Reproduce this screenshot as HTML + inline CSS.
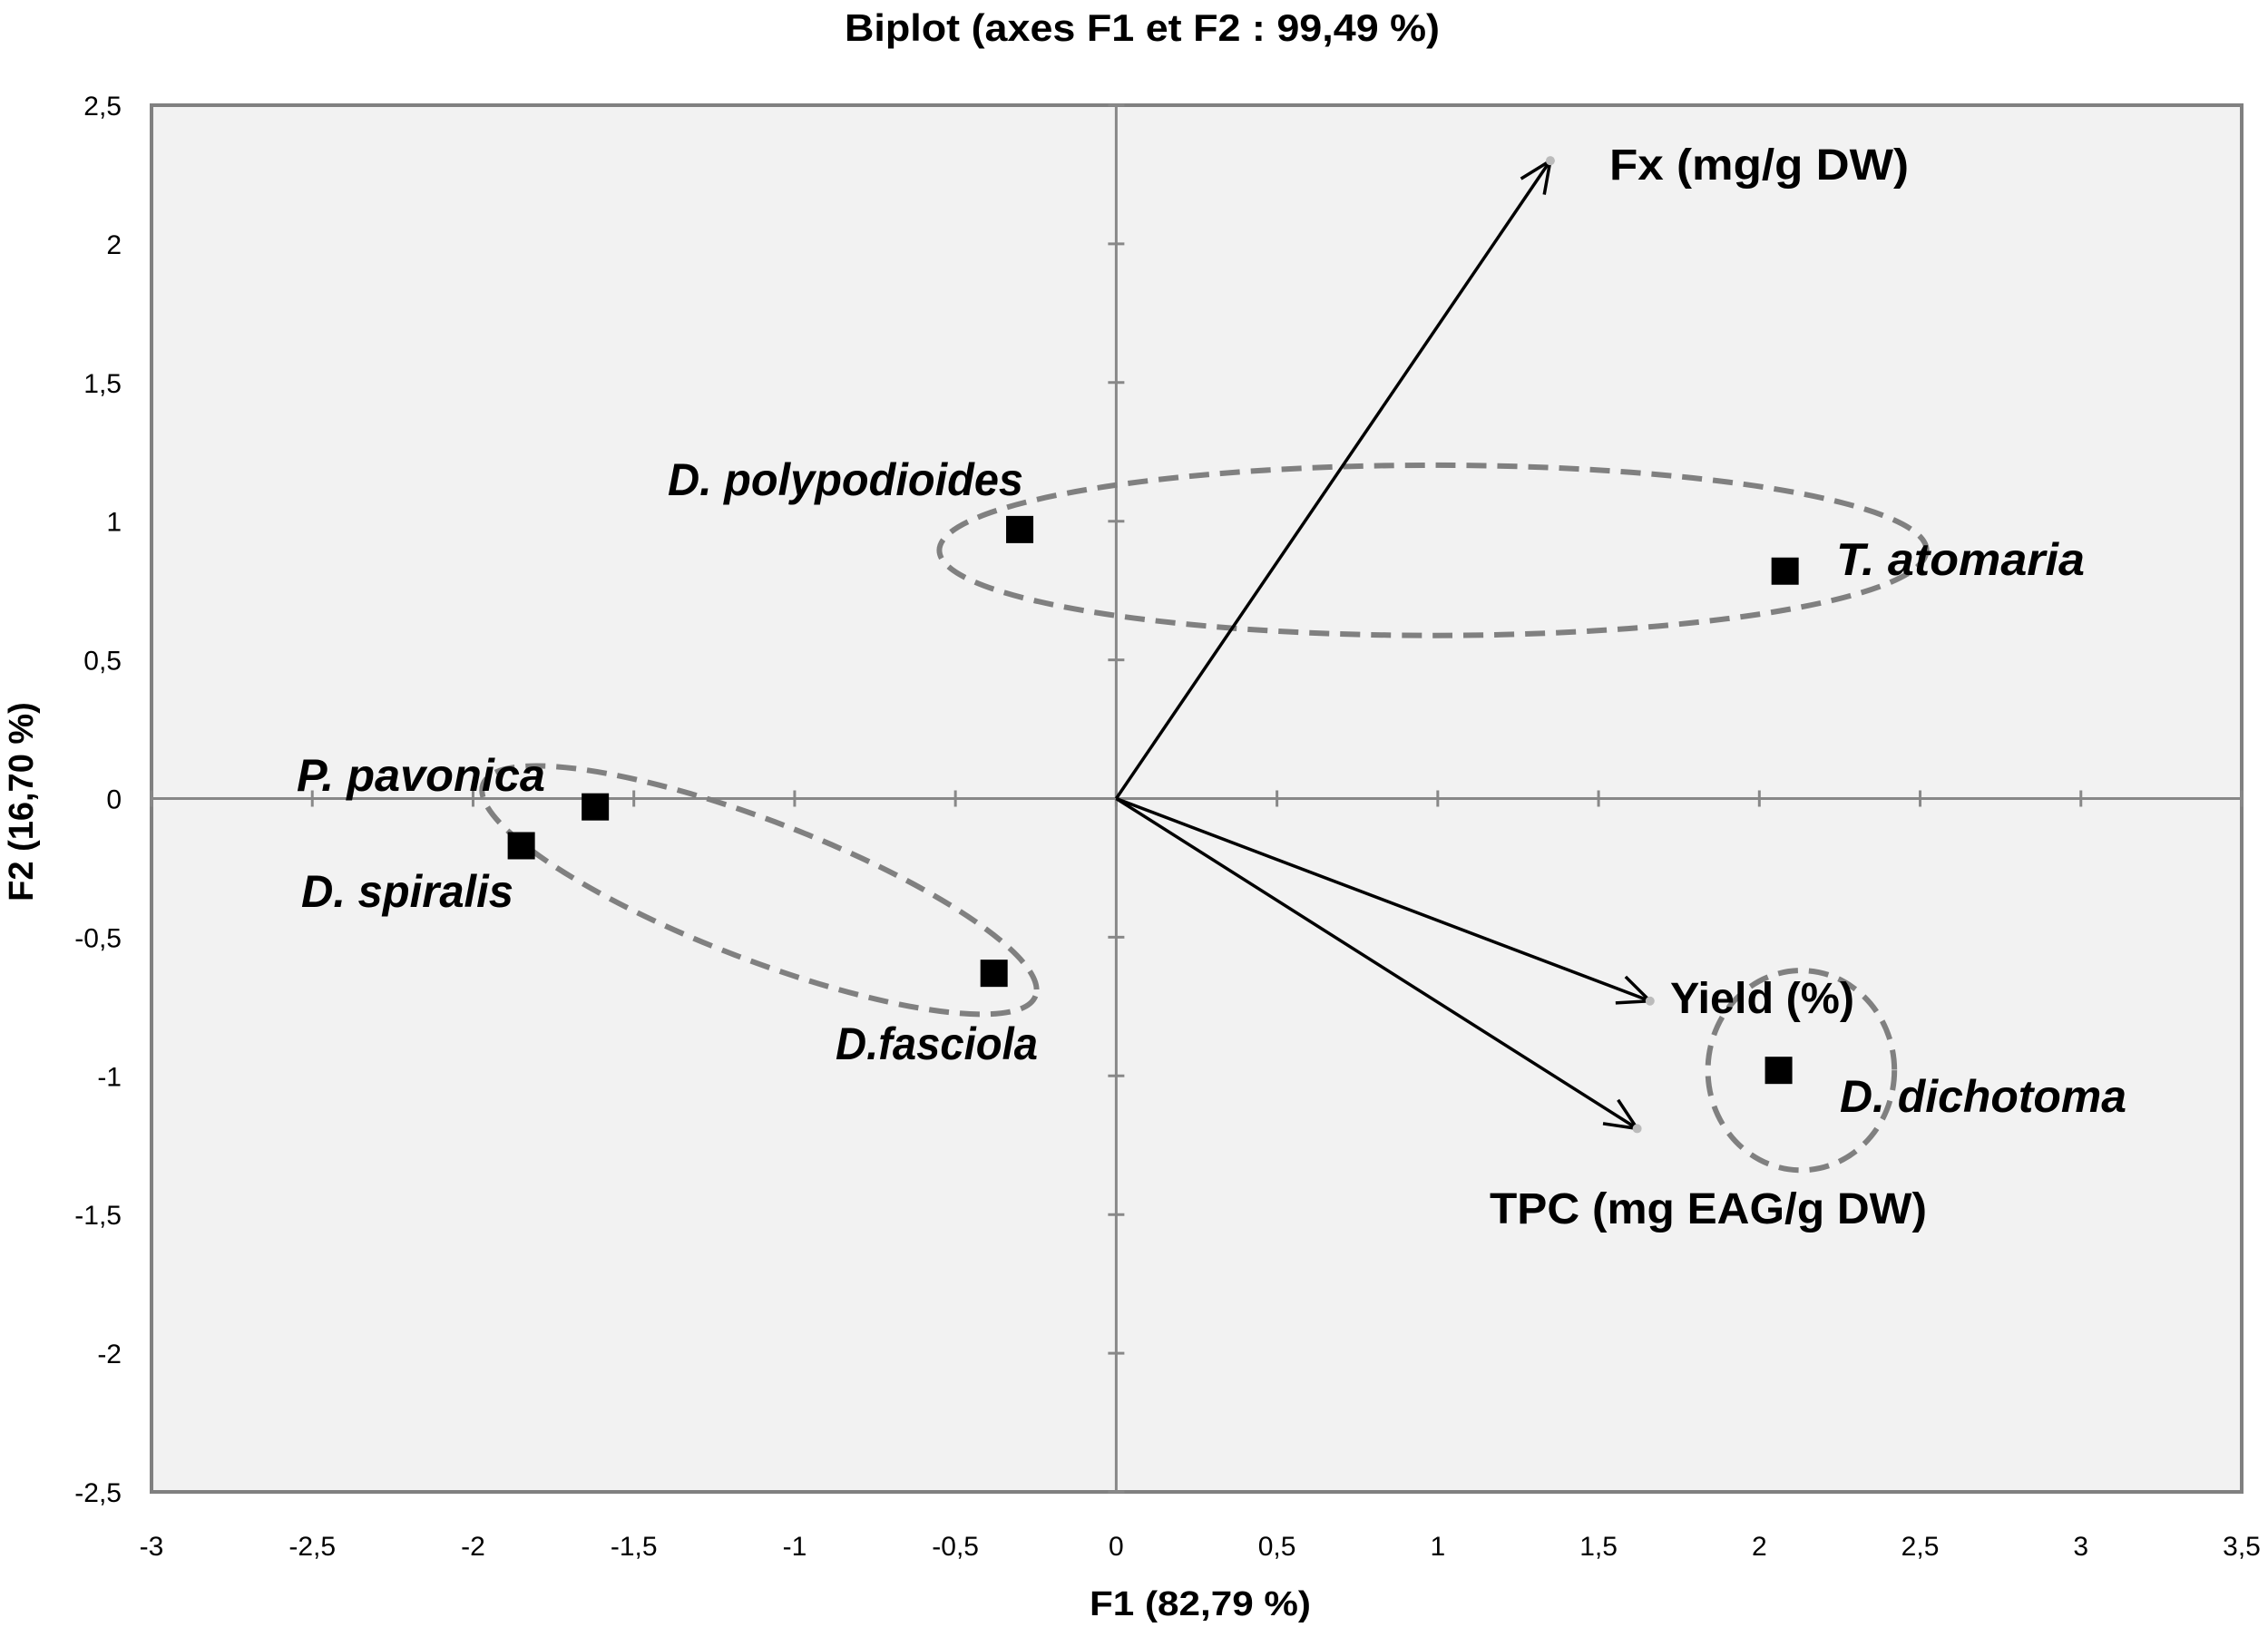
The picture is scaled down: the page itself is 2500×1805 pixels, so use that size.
<!DOCTYPE html>
<html><head><meta charset="utf-8"><style>
html,body{margin:0;padding:0;background:#fff;}
svg text{font-family:"Liberation Sans Narrow","Liberation Sans",sans-serif;}
</style></head><body>
<svg id="chart" width="2500" height="1800" viewBox="0 0 2500 1800" xmlns="http://www.w3.org/2000/svg">
<rect x="0" y="0" width="2500" height="1800" fill="#fff"/>
<text x="1259" y="45" text-anchor="middle" font-size="42" font-weight="bold" fill="#000" textLength="656" lengthAdjust="spacingAndGlyphs">Biplot (axes F1 et F2 : 99,49 %)</text>
<rect x="167" y="116" width="2304" height="1529" fill="#f2f2f2" stroke="#808080" stroke-width="4"/>
<g id="axes"></g>
<g id="ellipses"></g>
<g id="vectors"></g>
<g id="points"></g>
<text x="1323" y="1781" text-anchor="middle" font-size="38" font-weight="bold" textLength="244" lengthAdjust="spacingAndGlyphs">F1 (82,79 %)</text>
<text transform="translate(36,884) rotate(-90)" text-anchor="middle" font-size="38" font-weight="bold">F2 (16,70 %)</text>
</svg>
<script>
const xTicks = [-3,-2.5,-2,-1.5,-1,-0.5,0,0.5,1,1.5,2,2.5,3,3.5];
const yTicks = [-2.5,-2,-1.5,-1,-0.5,0,0.5,1,1.5,2,2.5];
const obsNames = ["D. polypodioides","T. atomaria","P. pavonica","D. spiralis","D.fasciola","D. dichotoma"];
const obsF1 = [-0.30, 2.08, -1.62, -1.85, -0.38, 2.06];
const obsF2 = [0.97, 0.82, -0.03, -0.17, -0.63, -0.98];
const varNames = ["Fx (mg/g DW)","Yield (%)","TPC (mg EAG/g DW)"];
const varF1 = [1.35, 1.66, 1.62];
const varF2 = [2.30, -0.73, -1.19];
const ellCx = [0.985, -1.11, 2.13];
const ellCy = [0.895, -0.33, -0.98];
const ellRx = [1.535, 0.92, 0.29];
const ellRy = [0.307, 0.25, 0.36];
const ellRot = [0, 21, 0];

const X0=167, X1=2471, Y0=1645, Y1=116;
const sx = v => X0 + (v - (-3)) / 6.5 * (X1 - X0);
const sy = v => Y0 - (v - (-2.5)) / 5 * (Y0 - Y1);
const NS="http://www.w3.org/2000/svg";
function mk(tag, attrs, parent){const e=document.createElementNS(NS,tag);for(const k in attrs)e.setAttribute(k,attrs[k]);parent.appendChild(e);return e;}
const fmt = v => String(v).replace('.',',');

const axes=document.getElementById('axes');
let l=mk('line',{x1:X0,x2:X1,y1:sy(0),y2:sy(0),stroke:'#888',"stroke-width":3},axes);


l=mk('line',{x1:sx(0),x2:sx(0),y1:Y0,y2:Y1,stroke:'#888',"stroke-width":3},axes);


xTicks.forEach(v=>{
  const tk=mk('line',{x1:sx(v),x2:sx(v),y1:sy(0)-9,y2:sy(0)+9,stroke:'#888',"stroke-width":3},axes);
  
  
  const t=mk('text',{x:sx(v),y:1715,"text-anchor":"middle","font-size":30},axes);
  t.textContent=fmt(v);
  
  
});
yTicks.forEach(v=>{
  const tk=mk('line',{x1:sx(0)-9,x2:sx(0)+9,y1:sy(v),y2:sy(v),stroke:'#888',"stroke-width":3},axes);
  
  
  const t=mk('text',{x:134,y:sy(v)+11,"text-anchor":"end","font-size":30},axes);
  t.textContent=fmt(v);
  
  
});

const eg=document.getElementById('ellipses');
ellCx.forEach((c,i)=>{
  const cx=sx(c), cy=sy(ellCy[i]);
  const rx=ellRx[i]/6.5*(X1-X0), ry=ellRy[i]/5*(Y0-Y1);
  const e=mk('ellipse',{cx:cx,cy:cy,rx:rx,ry:ry,fill:'none',stroke:'#808080',"stroke-width":6,"stroke-dasharray":"22 12",transform:`rotate(${ellRot[i]} ${cx} ${cy})`},eg);
  
  
});

const vg=document.getElementById('vectors');
const varLabelPos=[[1774,198,330],[1841,1117,203],[1642,1349,482]];
varNames.forEach((n,i)=>{
  const x0=sx(0),y0=sy(0),x1=sx(varF1[i]),y1=sy(varF2[i]);
  const g=mk('g',{},vg);
  
  
  mk('line',{x1:x0,y1:y0,x2:x1,y2:y1,stroke:'#000',"stroke-width":3.5},g);
  const a=Math.atan2(y1-y0,x1-x0), L=38, w=0.42;
  const p1=[x1-L*Math.cos(a-w),y1-L*Math.sin(a-w)], p2=[x1-L*Math.cos(a+w),y1-L*Math.sin(a+w)];
  mk('polyline',{points:`${p1[0]},${p1[1]} ${x1},${y1} ${p2[0]},${p2[1]}`,fill:'none',stroke:'#000',"stroke-width":3.5},g);
  mk('circle',{cx:x1,cy:y1,r:5,fill:'#bbb'},g);
  const t=mk('text',{x:varLabelPos[i][0],y:varLabelPos[i][1],"font-size":48,"font-weight":"bold",textLength:varLabelPos[i][2],lengthAdjust:"spacingAndGlyphs"},vg);
  t.textContent=n;
  
  
});

const pg=document.getElementById('points');
const obsLabelPos=[[736,546,392],[2024,634,274],[327,872,274],[332,1000,234],[921,1168,223],[2028,1226,316]];
obsNames.forEach((n,i)=>{
  const r=mk('rect',{x:sx(obsF1[i])-15,y:sy(obsF2[i])-15,width:30,height:30,fill:'#000'},pg);
  
  
  const p=obsLabelPos[i];
  const t=mk('text',{x:p[0],y:p[1],"font-size":50,"font-weight":"bold","font-style":"italic",textLength:p[2],lengthAdjust:"spacingAndGlyphs"},pg);
  t.textContent=n;
  
  
});
</script>
</body></html>
